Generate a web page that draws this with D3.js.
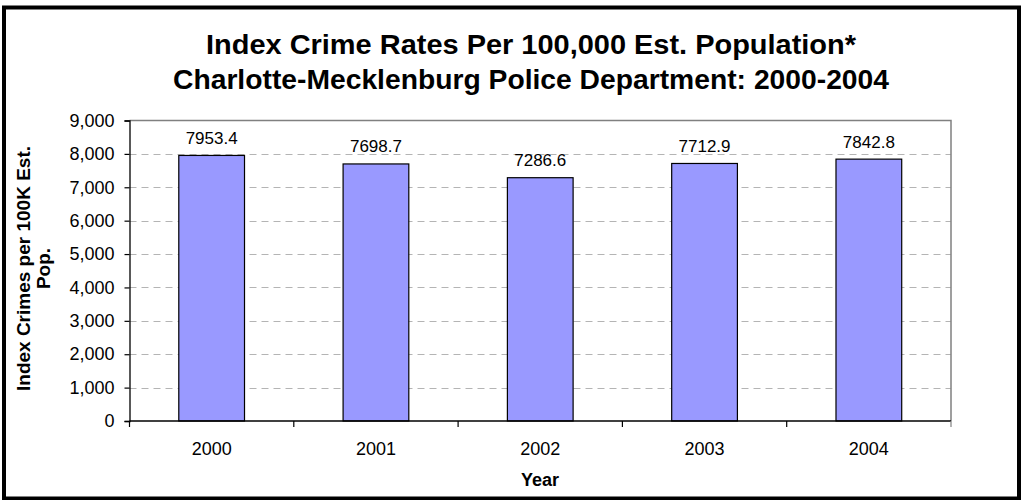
<!DOCTYPE html>
<html>
<head>
<meta charset="utf-8">
<script src="https://cdn.jsdelivr.net/npm/d3@7"></script>
<style>
  html, body { margin: 0; padding: 0; background: #fff; }
  svg { display: block; font-family: Arial, "Liberation Sans", sans-serif; }
</style>
</head>
<body>
<svg id="chart" width="1022" height="500"></svg>
<script>
const years = ["2000", "2001", "2002", "2003", "2004"];
const rates = [7953.4, 7698.7, 7286.6, 7712.9, 7842.8];
const yTicks = [0, 1000, 2000, 3000, 4000, 5000, 6000, 7000, 8000, 9000];
const titleLines = ["Index Crime Rates Per 100,000 Est. Population*", "Charlotte-Mecklenburg Police Department: 2000-2004"];
const yTitleLines = ["Index Crimes per 100K Est.", "Pop."];
const xTitle = "Year";

(function () {
const svg = d3.select("#chart");
const W = 1022, H = 500;
const pL = 129.5, pR = 951, pT = 120.5, pB = 421;

svg.append("rect").attr("width", W).attr("height", H).attr("fill", "#fff");
// outer border
svg.append("rect").attr("x", 4).attr("y", 7.5).attr("width", 1015).attr("height", 491)
  .attr("fill", "none").attr("stroke", "#000").attr("stroke-width", 4);

const x = d3.scaleBand().domain(years).range([pL, pR]).paddingInner(0.6).paddingOuter(0.3);
const y = d3.scaleLinear().domain([0, 9000]).range([pB, pT]);

// gridlines
svg.append("g").selectAll("line").data(yTicks.filter(d => d > 0 && d < 9000)).join("line")
  .attr("x1", pL).attr("x2", pR)
  .attr("y1", d => Math.round(y(d)) + 0.5).attr("y2", d => Math.round(y(d)) + 0.5)
  .attr("stroke", "#b4b4b4").attr("stroke-width", 1).attr("stroke-dasharray", "7,5");

// plot border top/right
svg.append("path")
  .attr("d", `M${pL},${pT}H${pR}V${pB}`)
  .attr("fill", "none").attr("stroke", "#808080").attr("stroke-width", 1.5);

// bars
svg.append("g").selectAll("rect").data(rates).join("rect")
  .attr("x", (d, i) => x(years[i]))
  .attr("y", d => y(d))
  .attr("width", x.bandwidth())
  .attr("height", d => pB - y(d))
  .attr("fill", "#9999FF").attr("stroke", "#000").attr("stroke-width", 1.2);

// value labels
svg.append("g").selectAll("text").data(rates).join("text")
  .attr("x", (d, i) => x(years[i]) + x.bandwidth() / 2)
  .attr("y", d => y(d) - 11.5)
  .attr("text-anchor", "middle").attr("font-size", 17).attr("fill", "#000")
  .text(d => d.toFixed(1));

// y axis
const yAxis = d3.axisLeft(y).tickValues(yTicks).tickSize(5).tickPadding(10)
  .tickFormat(d3.format(","));
const gy = svg.append("g").attr("transform", `translate(${pL},0)`).call(yAxis);
gy.select(".domain").attr("stroke", "#000").attr("stroke-width", 1.3);
gy.selectAll(".tick line").attr("stroke", "#000").attr("stroke-width", 1.2);
gy.selectAll(".tick text").attr("font-size", 18).attr("font-family", "Arial, 'Liberation Sans', sans-serif").attr("fill", "#000");

// x axis
const gx = svg.append("g");
gx.append("line").attr("x1", pL).attr("x2", pR).attr("y1", pB).attr("y2", pB)
  .attr("stroke", "#000").attr("stroke-width", 1.3);
const step = x.step();
gx.selectAll("line.tk").data(d3.range(years.length + 1)).join("line").attr("class", "tk")
  .attr("x1", i => pL + i * step).attr("x2", i => pL + i * step)
  .attr("y1", pB).attr("y2", pB + 6)
  .attr("stroke", i => i === years.length ? "#808080" : "#000").attr("stroke-width", 1.2);
gx.selectAll("text").data(years).join("text")
  .attr("x", d => x(d) + x.bandwidth() / 2).attr("y", 455)
  .attr("text-anchor", "middle").attr("font-size", 18).text(d => d);

// titles
const titleWidths = [650, 716];
svg.append("g").selectAll("text").data(titleLines).join("text")
  .attr("x", 531).attr("y", (d, i) => 54 + i * 35)
  .attr("text-anchor", "middle").attr("font-size", 28).attr("font-weight", "bold")
  .attr("textLength", (d, i) => titleWidths[i]).attr("lengthAdjust", "spacingAndGlyphs")
  .text(d => d);

svg.append("g").attr("transform", "translate(30,268.5) rotate(-90)")
  .selectAll("text").data(yTitleLines).join("text")
  .attr("x", 0).attr("y", (d, i) => i * 20)
  .attr("text-anchor", "middle").attr("font-size", 19).attr("font-weight", "bold").text(d => d);

svg.append("text").attr("x", 540).attr("y", 486).attr("text-anchor", "middle")
  .attr("font-size", 18).attr("font-weight", "bold").text(xTitle);
})();
</script>
</body>
</html>
